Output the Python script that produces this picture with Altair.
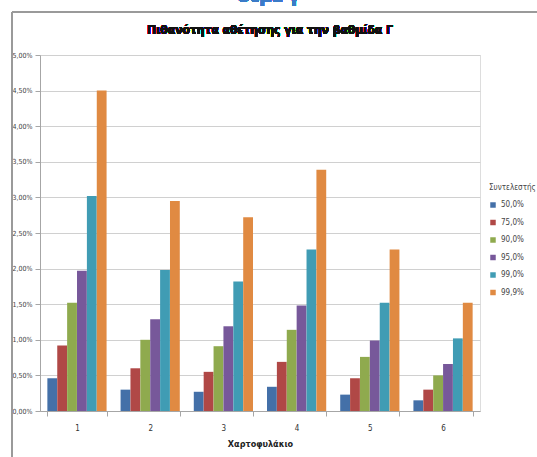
import altair as alt
import pandas as pd

portfolios = ["1", "2", "3", "4", "5", "6"]
levels = ["50,0%", "75,0%", "90,0%", "95,0%", "99,0%", "99,9%"]
values = {
    "50,0%": [0.46, 0.30, 0.27, 0.34, 0.23, 0.15],
    "75,0%": [0.92, 0.60, 0.55, 0.69, 0.46, 0.30],
    "90,0%": [1.52, 1.00, 0.91, 1.14, 0.76, 0.50],
    "95,0%": [1.97, 1.29, 1.19, 1.48, 0.99, 0.66],
    "99,0%": [3.02, 1.98, 1.82, 2.27, 1.52, 1.02],
    "99,9%": [4.50, 2.95, 2.72, 3.39, 2.27, 1.52],
}
colors = ["#4470A8", "#B04846", "#8FAA4E", "#77589A", "#409CB4", "#E08A42"]
chart_title = "Πιθανότητα αθέτησης για την βαθμίδα Γ"
top_label = "Θέμα γ"

rows = []
for lv in levels:
    for p, v in zip(portfolios, values[lv]):
        rows.append({"p": p, "lvl": lv, "v": v / 100.0})
df = pd.DataFrame(rows)

FONT = "'Liberation Sans Narrow', 'DejaVu Sans Condensed', 'Roboto', sans-serif"

bars = alt.Chart(df).mark_bar(size=9.8).encode(
    x=alt.X("p:N", sort=portfolios, title="Χαρτοφυλάκιο",
            scale=alt.Scale(paddingInner=0.19, paddingOuter=0.1),
            axis=alt.Axis(labelAngle=0, tickBand="extent", domainColor="#a6a6a6",
                          tickColor="#a6a6a6", tickSize=5, labelFontSize=8,
                          labelColor="#333333", labelFont=FONT, labelPadding=8,
                          titleFont=FONT, titleFontSize=9, titleFontWeight="bold",
                          titleColor="#222222", titlePadding=7)),
    xOffset=alt.XOffset("lvl:N", sort=levels),
    y=alt.Y("v:Q", title=None,
            scale=alt.Scale(domain=[0, 0.05], nice=False),
            axis=alt.Axis(values=[i * 0.005 for i in range(11)],
                          labelExpr="replace(format(datum.value, '.2%'), '.', ',')",
                          gridColor="#d0d0d0", domainColor="#a6a6a6",
                          tickColor="#a6a6a6", tickSize=5, labelFontSize=7,
                          labelColor="#444444", labelFont=FONT, labelPadding=3)),
    color=alt.Color("lvl:N", sort=levels,
                    scale=alt.Scale(domain=levels, range=colors),
                    legend=alt.Legend(title="Συντελεστής γ ▾", orient="none",
                                      legendX=449, legendY=129,
                                      symbolType="square", symbolSize=30,
                                      symbolStrokeWidth=0,
                                      labelFont=FONT, labelFontSize=8,
                                      labelColor="#444444", rowPadding=9.5,
                                      titleFont=FONT, titleFontSize=8,
                                      titleFontWeight="normal", titleColor="#444444",
                                      titlePadding=9)),
)

frame_top = alt.Chart(df).mark_rule(color="#9a9a9a", strokeWidth=1.5).encode(
    x=alt.value(-28), x2=alt.value(520), y=alt.value(-43))
frame_left = alt.Chart(df).mark_rule(color="#9a9a9a", strokeWidth=1.5).encode(
    x=alt.value(-28), y=alt.value(-43), y2=alt.value(420))
top_text = alt.Chart(df).mark_text(text=top_label, color="#3B7BC8", fontSize=18,
                                   fontWeight="bold", font=FONT, baseline="bottom").encode(
    x=alt.value(228), y=alt.value(-49))
title_text = alt.Chart(df).mark_text(text=chart_title, color="#111111", fontSize=12,
                                     fontWeight="bold", font=FONT, baseline="middle").encode(
    x=alt.value(230), y=alt.value(-25))

chart = alt.layer(bars, frame_top, frame_left, top_text, title_text).properties(
    width=440, height=356,
    autosize=alt.AutoSizeParams(type="none"),
    padding={"left": 40, "top": 55, "right": 57, "bottom": 46},
).configure_view(stroke=None).configure(background="white")

chart.save("out.html", embed_options={"renderer": "svg", "actions": False})
